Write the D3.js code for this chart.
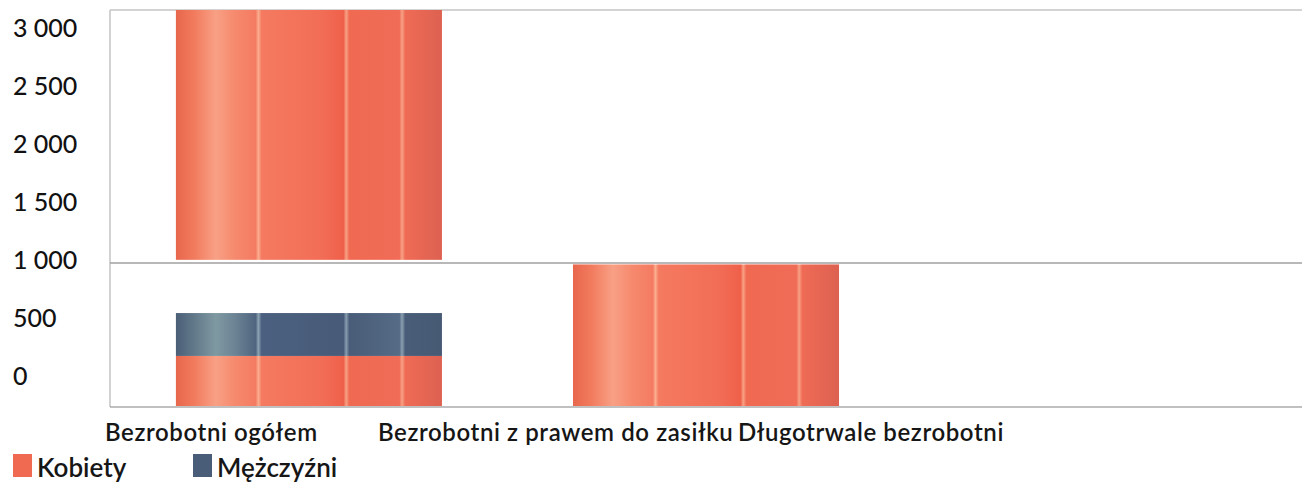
<!DOCTYPE html>
<html>
<head>
<meta charset="utf-8">
<script src="https://cdn.jsdelivr.net/npm/d3@7"></script>
<style>
	body { margin: 0; background: #fff; }
	svg { display: block; }
	text { font-family: Lato, "Noto Sans", sans-serif; fill: #161616; }
</style>
</head>
<body>
<svg></svg>
<script>
var WIDTH = 1312;
var HEIGHT = 495;

// data
var categories = ['Bezrobotni ogółem', 'Bezrobotni z prawem do zasiłku', 'Długotrwale bezrobotni'];
var kobiety = [350, 990, 0];
var mezczyzni = [300, 0, 0];
// part of the Kobiety bar drawn above the 1 000 line (from, to)
var kobietyGora = [[1025, 3000], null, null];
var yTicks = [0, 500, 1000, 1500, 2000, 2500, 3000];
var gridValues = [1000, 3000];
var seriesNames = ['Kobiety', 'Mężczyźni'];

// layout
var LEFT = 110;
var RIGHT = 1302;
var labelX = [105, 378, 738];

var svg = d3.select('svg')
	.attr('width', WIDTH)
	.attr('height', HEIGHT);

var defs = svg.append('defs');

var addGradient = function(id, stops){
	var g = defs.append('linearGradient')
		.attr('id', id)
		.attr('x1', 0).attr('x2', 1)
		.attr('y1', 0).attr('y2', 0);
	g.selectAll('stop').data(stops).enter()
		.append('stop')
		.attr('offset', function(d){ return d[0]; })
		.attr('stop-color', function(d){ return d[1]; });
};

addGradient('grad-k', [
	[0, '#e8674c'], [0.07, '#f27b5e'], [0.15, '#f8a085'], [0.22, '#f68a6e'],
	[0.30, '#f47b61'], [0.31, '#fbae90'], [0.322, '#f47a60'],
	[0.55, '#f26d56'], [0.63, '#ef604a'], [0.64, '#f8a184'], [0.652, '#f06a52'],
	[0.84, '#f06c56'], [0.85, '#f7a286'], [0.862, '#ef6b55'], [1, '#dd6151']
]);
addGradient('grad-m', [
	[0, '#4b5f77'], [0.07, '#62798a'], [0.15, '#7f99a2'], [0.22, '#6c8494'],
	[0.30, '#4f6580'], [0.31, '#8ca3b2'], [0.322, '#4b6080'],
	[0.63, '#485b78'], [0.64, '#889eb0'], [0.652, '#495c78'],
	[0.84, '#556b86'], [0.85, '#8a9fb0'], [0.862, '#4a5d78'], [1, '#475a74']
]);

var x = d3.scaleBand()
	.domain(categories)
	.range([LEFT, RIGHT])
	.paddingInner(0.33)
	.paddingOuter(0.166);

// value axis is broken at 1 000: lower and upper parts have different steps
var y = d3.scaleLinear()
	.domain([0, 1000, 3000])
	.range([406, 263, 10]);

// tick labels are spaced evenly down the left side
var yLabel = d3.scaleLinear()
	.domain([0, 3000])
	.range([375, 27.5]);

// frame and grid
svg.append('line')
	.attr('x1', LEFT).attr('x2', LEFT)
	.attr('y1', y(3000)).attr('y2', y(0) + 1)
	.attr('stroke', '#b5b5b5').attr('stroke-width', 1.2);

svg.selectAll('.grid').data(gridValues).enter()
	.append('line')
	.attr('class', 'grid')
	.attr('x1', LEFT).attr('x2', RIGHT)
	.attr('y1', function(d){ return y(d); })
	.attr('y2', function(d){ return y(d); })
	.attr('stroke', function(d){ return d === 3000 ? '#c4c4c4' : '#a0a0a0'; })
	.attr('stroke-width', 1.3);

svg.append('line')
	.attr('x1', LEFT).attr('x2', RIGHT)
	.attr('y1', y(0) + 1).attr('y2', y(0) + 1)
	.attr('stroke', '#ababab').attr('stroke-width', 1.5);

// bars
var segments = [];
categories.forEach(function(cat, i){
	if(kobiety[i] > 0) segments.push({cat: cat, from: 0, to: kobiety[i], s: 'k'});
	if(mezczyzni[i] > 0) segments.push({cat: cat, from: kobiety[i], to: kobiety[i] + mezczyzni[i], s: 'm'});
	if(kobietyGora[i]) segments.push({cat: cat, from: kobietyGora[i][0], to: kobietyGora[i][1], s: 'k'});
});

svg.append('g').selectAll('rect').data(segments).enter()
	.append('rect')
	.attr('x', function(d){ return x(d.cat); })
	.attr('width', x.bandwidth())
	.attr('y', function(d){ return y(d.to); })
	.attr('height', function(d){ return y(d.from) - y(d.to); })
	.attr('fill', function(d){ return d.s === 'k' ? 'url(#grad-k)' : 'url(#grad-m)'; });

// y labels
var leftAxis = d3.axisLeft(yLabel)
	.tickValues(yTicks)
	.tickSize(0)
	.tickFormat(function(d){ return d3.format(',')(d).replace(',', ' '); });
var yAxisG = svg.append('g').call(leftAxis);
yAxisG.select('.domain').remove();
yAxisG.selectAll('text')
	.attr('x', 13)
	.attr('dy', '0.36em')
	.attr('text-anchor', 'start')
	.style('font-family', 'Lato, sans-serif')
	.style('font-size', '25px')
	.style('font-weight', 500)
	.style('fill', '#111');

// x labels
svg.selectAll('.xlabel').data(categories).enter()
	.append('text')
	.attr('class', 'xlabel')
	.attr('x', function(d, i){ return labelX[i]; })
	.attr('y', 441)
	.style('font-size', '24px')
	.style('letter-spacing', '0.6px')
	.style('font-weight', 600)
	.text(function(d){ return d; });

// legend
var legendX = [13, 193];
var legend = svg.selectAll('.legend').data(seriesNames).enter()
	.append('g')
	.attr('class', 'legend')
	.attr('transform', function(d, i){ return 'translate(' + legendX[i] + ',454)'; });
legend.append('rect')
	.attr('width', 19).attr('height', 23)
	.attr('fill', function(d, i){ return i === 0 ? '#f06a52' : '#4a5d78'; });
legend.append('text')
	.attr('x', 24)
	.attr('y', 23)
	.style('font-size', '26px')
	.style('font-weight', 600)
	.text(function(d){ return d; });
</script>
</body>
</html>
